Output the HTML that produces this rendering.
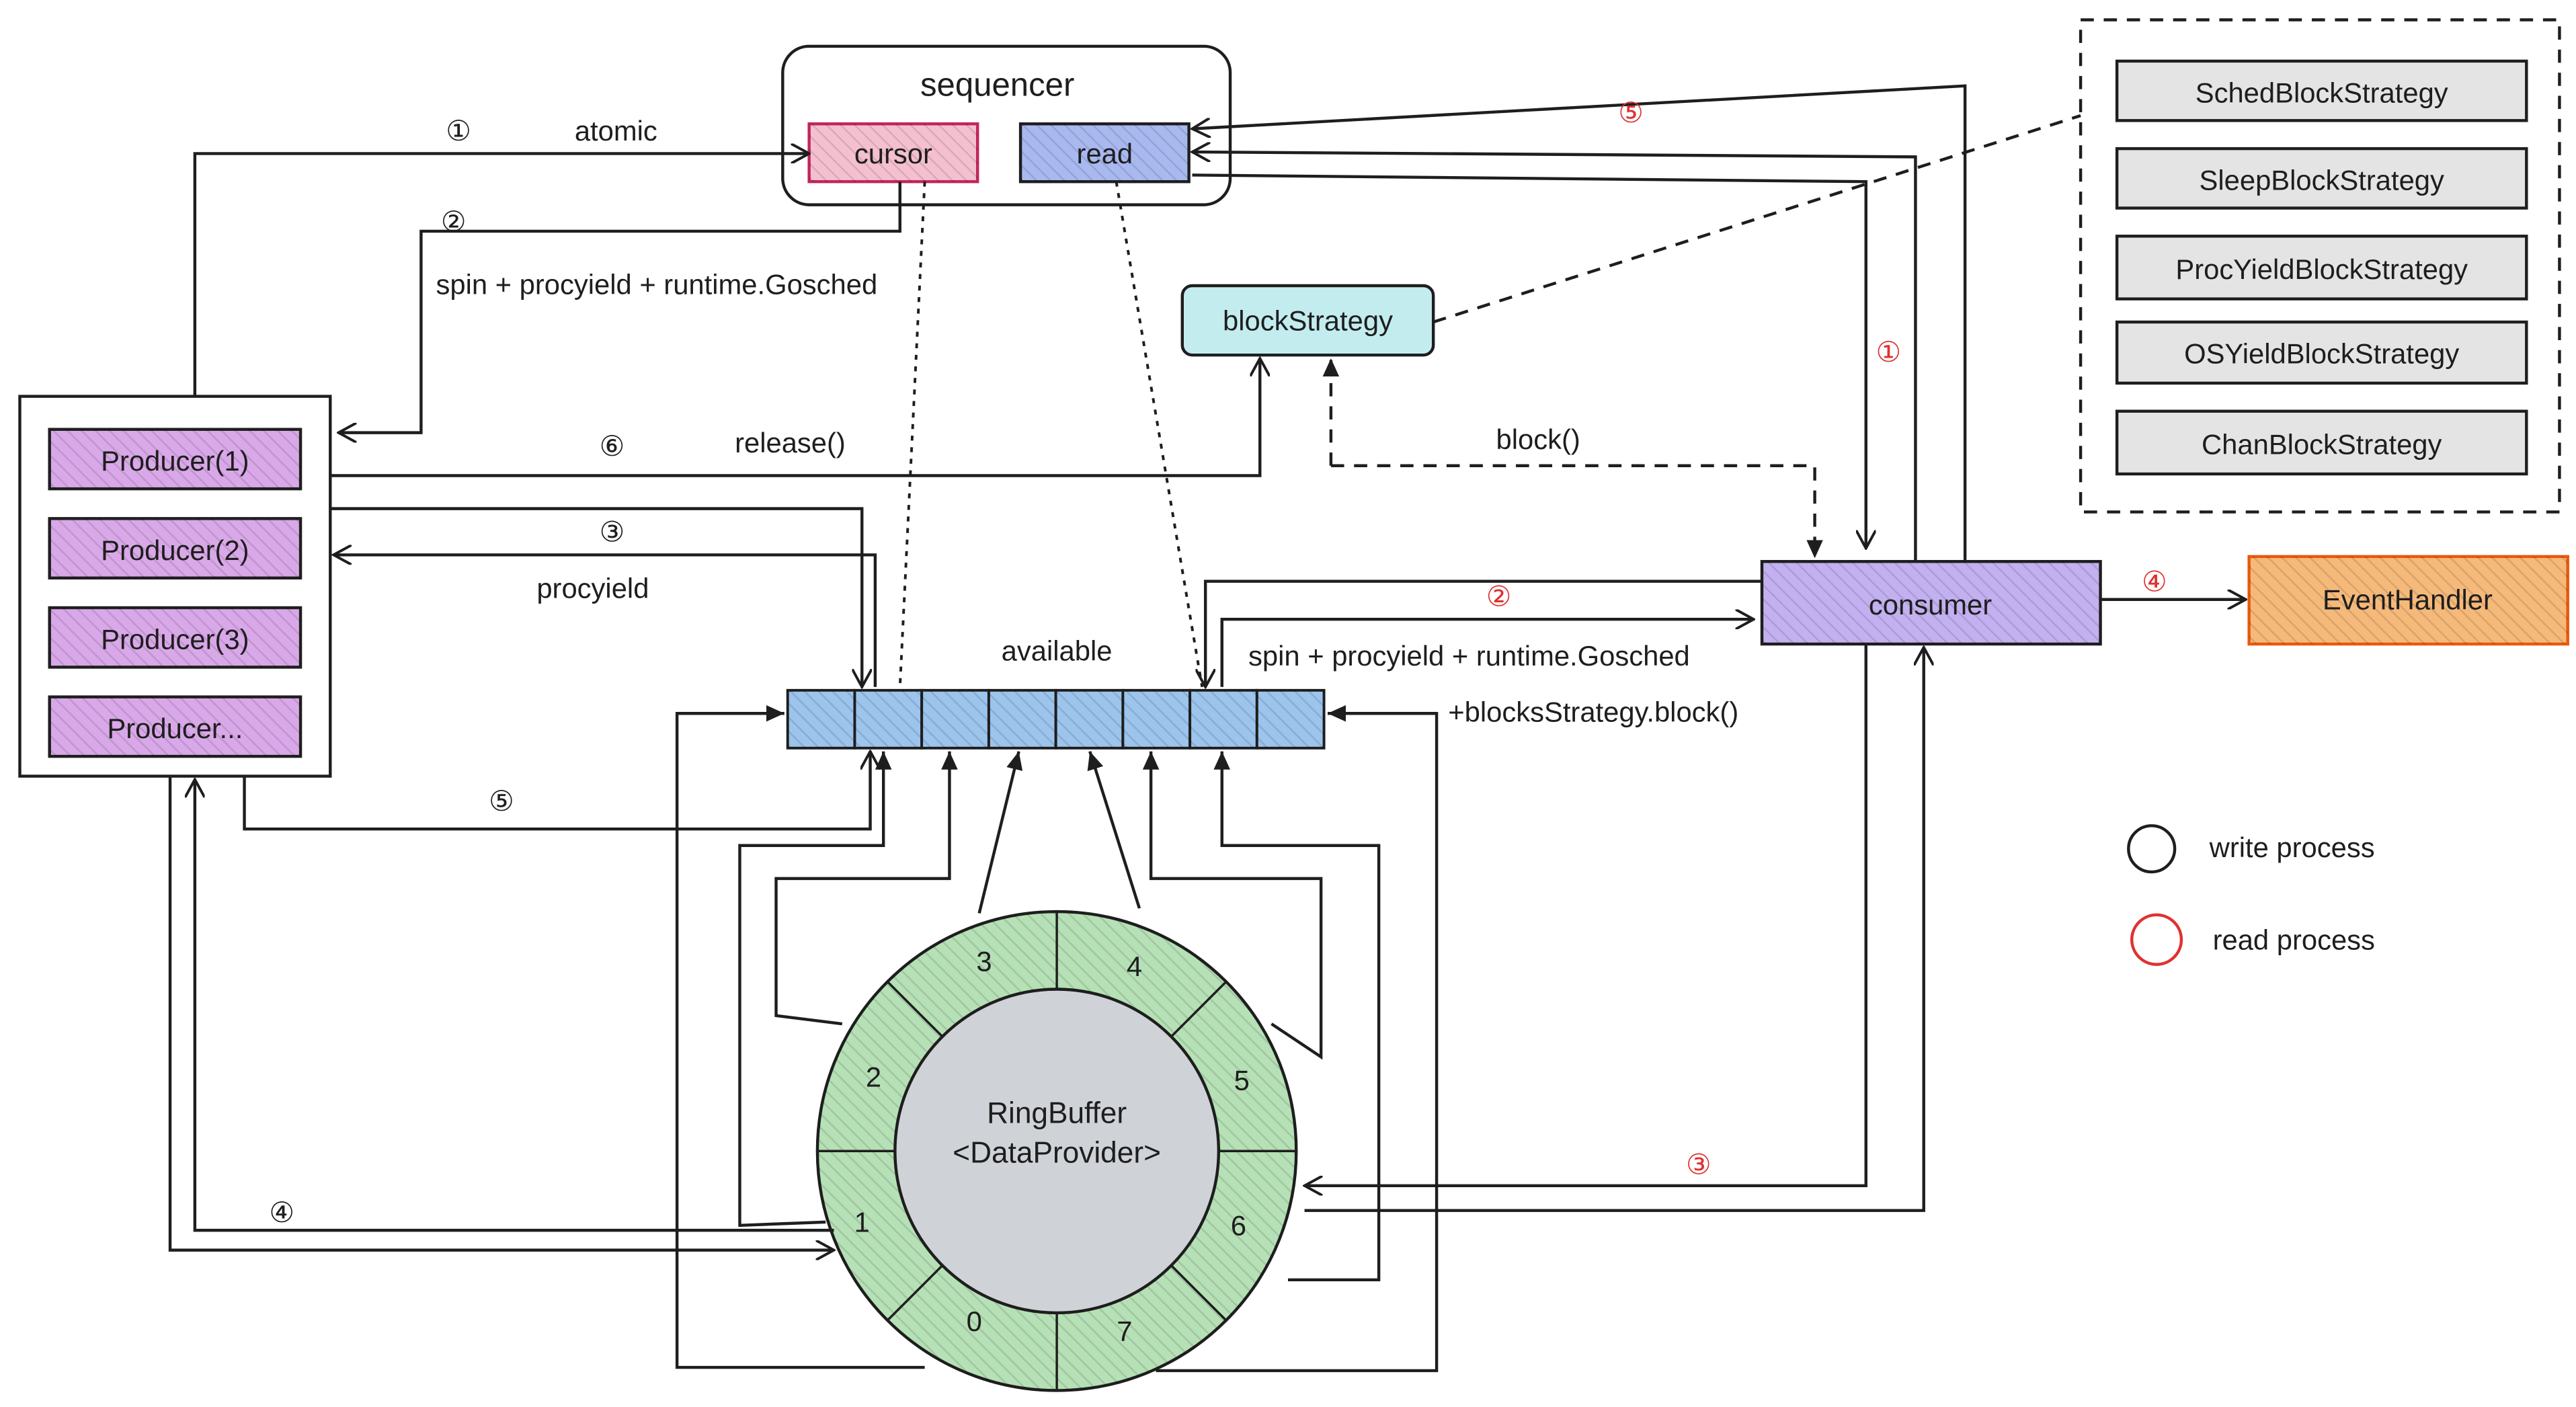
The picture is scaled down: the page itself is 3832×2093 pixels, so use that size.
<!DOCTYPE html>
<html><head><meta charset="utf-8"><style>
html,body{margin:0;padding:0;background:#fff;}
svg{display:block;}
text{font-family:"Liberation Sans",sans-serif;fill:#1e1e1e;}
</style></head><body>
<svg width="3832" height="2093" viewBox="0 0 1560 852" preserveAspectRatio="none" xmlns="http://www.w3.org/2000/svg">
<defs>
<marker id="a" viewBox="0 0 12 12" refX="11" refY="6" markerWidth="12" markerHeight="12" markerUnits="userSpaceOnUse" orient="auto"><path d="M0,0 L11,6 L0,12" fill="none" stroke="#1e1e1e" stroke-width="1.6"/></marker>
<marker id="t" viewBox="0 0 12 12" refX="11" refY="6" markerWidth="12" markerHeight="12" markerUnits="userSpaceOnUse" orient="auto"><path d="M0,1 L11,6 L0,11 Z" fill="#1e1e1e"/></marker>
<pattern id="h" width="6" height="6" patternUnits="userSpaceOnUse" patternTransform="rotate(-45)"><line x1="0" y1="0" x2="0" y2="6" stroke="#000" stroke-opacity="0.12" stroke-width="2"/></pattern>
</defs>
<g fill="none" stroke="#1e1e1e" stroke-width="1.8">
<!-- sequencer -->
<rect x="474" y="28" width="271" height="96" rx="16" fill="#fff"/>
</g>
<text x="604" y="58" font-size="20" text-anchor="middle">sequencer</text>
<rect x="490" y="75" width="102" height="35" fill="#f4c0d0" stroke="#c2255c" stroke-width="1.8"/>
<rect x="490" y="75" width="102" height="35" fill="url(#h)"/>
<text x="541" y="99" font-size="17" text-anchor="middle">cursor</text>
<rect x="618" y="75" width="102" height="35" fill="#a9b9f0" stroke="#1e1e1e" stroke-width="1.8"/>
<rect x="618" y="75" width="102" height="35" fill="url(#h)"/>
<text x="669" y="99" font-size="17" text-anchor="middle">read</text>

<!-- producers -->
<rect x="12" y="240" width="188" height="230" fill="#fff" stroke="#1e1e1e" stroke-width="1.8"/>
<g stroke="#1e1e1e" stroke-width="1.8">
<rect x="30" y="260" width="152" height="36" fill="#d9a8e8"/>
<rect x="30" y="314" width="152" height="36" fill="#d9a8e8"/>
<rect x="30" y="368" width="152" height="36" fill="#d9a8e8"/>
<rect x="30" y="422" width="152" height="36" fill="#d9a8e8"/>
</g>
<g fill="url(#h)"><rect x="30" y="260" width="152" height="36"/><rect x="30" y="314" width="152" height="36"/><rect x="30" y="368" width="152" height="36"/><rect x="30" y="422" width="152" height="36"/></g>
<text x="106" y="285" font-size="17" text-anchor="middle">Producer(1)</text>
<text x="106" y="339" font-size="17" text-anchor="middle">Producer(2)</text>
<text x="106" y="393" font-size="17" text-anchor="middle">Producer(3)</text>
<text x="106" y="447" font-size="17" text-anchor="middle">Producer...</text>

<!-- blockStrategy -->
<rect x="716" y="173" width="152" height="42" rx="6" fill="#c3ecef" stroke="#1e1e1e" stroke-width="1.8"/>
<text x="792" y="200" font-size="17" text-anchor="middle">blockStrategy</text>

<!-- strategies -->
<rect x="1260" y="12" width="290" height="298" fill="none" stroke="#1e1e1e" stroke-width="1.8" stroke-dasharray="8 6"/>
<g stroke="#1e1e1e" stroke-width="1.8" fill="#e4e4e4">
<rect x="1282" y="37" width="248" height="36"/>
<rect x="1282" y="90" width="248" height="36"/>
<rect x="1282" y="143" width="248" height="38"/>
<rect x="1282" y="195" width="248" height="37"/>
<rect x="1282" y="249" width="248" height="38"/>
</g>
<text x="1406" y="62" font-size="17" text-anchor="middle">SchedBlockStrategy</text>
<text x="1406" y="115" font-size="17" text-anchor="middle">SleepBlockStrategy</text>
<text x="1406" y="169" font-size="17" text-anchor="middle">ProcYieldBlockStrategy</text>
<text x="1406" y="220" font-size="17" text-anchor="middle">OSYieldBlockStrategy</text>
<text x="1406" y="275" font-size="17" text-anchor="middle">ChanBlockStrategy</text>

<!-- consumer & eventhandler -->
<rect x="1067" y="340" width="205" height="50" fill="#c3b0f0" stroke="#1e1e1e" stroke-width="1.8"/>
<rect x="1067" y="340" width="205" height="50" fill="url(#h)"/>
<text x="1169" y="372" font-size="17" text-anchor="middle">consumer</text>
<rect x="1362" y="337" width="193" height="53" fill="#f5b97a" stroke="#e8590c" stroke-width="1.8"/>
<rect x="1362" y="337" width="193" height="53" fill="url(#h)"/>
<text x="1458" y="369" font-size="17" text-anchor="middle">EventHandler</text>

<!-- available -->
<text x="640" y="400" font-size="17" text-anchor="middle">available</text>
<g stroke="#1e1e1e" stroke-width="1.6" fill="#9cc4ec">
<rect x="477" y="418" width="40.6" height="35"/><rect x="517.6" y="418" width="40.6" height="35"/><rect x="558.2" y="418" width="40.6" height="35"/><rect x="598.8" y="418" width="40.6" height="35"/><rect x="639.4" y="418" width="40.6" height="35"/><rect x="680" y="418" width="40.6" height="35"/><rect x="720.6" y="418" width="40.6" height="35"/><rect x="761.2" y="418" width="40.6" height="35"/>
</g>
<rect x="477" y="418" width="325" height="35" fill="url(#h)"/>

<!-- ring -->
<circle cx="640" cy="697" r="145" fill="#b6e0b6" stroke="#1e1e1e" stroke-width="1.8"/>
<circle cx="640" cy="697" r="145" fill="url(#h)"/>
<g stroke="#1e1e1e" stroke-width="1.4">
<line x1="640" y1="552" x2="640" y2="599"/><line x1="640" y1="795" x2="640" y2="842"/>
<line x1="495" y1="697" x2="542" y2="697"/><line x1="738" y1="697" x2="785" y2="697"/>
<line x1="537" y1="594" x2="571" y2="628"/><line x1="709" y1="766" x2="743" y2="800"/>
<line x1="743" y1="594" x2="709" y2="628"/><line x1="571" y1="766" x2="537" y2="800"/>
</g>
<circle cx="640" cy="697" r="98" fill="#cfd2d6" stroke="#1e1e1e" stroke-width="1.8"/>
<text x="640" y="680" font-size="18" text-anchor="middle">RingBuffer</text>
<text x="640" y="704" font-size="18" text-anchor="middle">&lt;DataProvider&gt;</text>
<g font-size="17" text-anchor="middle">
<text x="596" y="588">3</text><text x="687" y="591">4</text><text x="529" y="658">2</text><text x="752" y="660">5</text>
<text x="522" y="746">1</text><text x="750" y="748">6</text><text x="590" y="806">0</text><text x="681" y="812">7</text>
</g>

<!-- connectors -->
<g fill="none" stroke="#1e1e1e" stroke-width="1.8">
<polyline points="118,240 118,93 490,93" marker-end="url(#a)"/>
<polyline points="545,110 545,140 255,140 255,262 205,262" marker-end="url(#a)"/>
<polyline points="200,288 763,288 763,217" marker-end="url(#a)"/>
<polyline points="200,308 522,308 522,416" marker-end="url(#a)"/>
<polyline points="530,416 530,336 202,336" marker-end="url(#a)"/>
<polyline points="148,470 148,502 527,502 527,455" marker-end="url(#a)"/>
<polyline points="103,470 103,757 505,757" marker-end="url(#a)"/>
<polyline points="505,745 118,745 118,472" marker-end="url(#a)"/>
<polyline points="1067,352 730,352 730,416" marker-end="url(#a)"/>
<polyline points="740,416 740,375 1062,375" marker-end="url(#a)"/>
<polyline points="1190,340 1190,52 722,78" marker-end="url(#a)"/>
<polyline points="1160,340 1160,95 722,92" marker-end="url(#a)"/>
<polyline points="722,106 1130,110 1130,332" marker-end="url(#a)"/>
<polyline points="1272,363 1360,363" marker-end="url(#a)"/>
<polyline points="1130,390 1130,718 790,718" marker-end="url(#a)"/>
<polyline points="790,733 1165,733 1165,392" marker-end="url(#a)"/>
<polyline points="593,553 617,455" marker-end="url(#t)"/>
<polyline points="690,550 660,455" marker-end="url(#t)"/>
<polyline points="510,620 470,615 470,532 575,532 575,455" marker-end="url(#t)"/>
<polyline points="500,740 448,742 448,512 535,512 535,455" marker-end="url(#t)"/>
<polyline points="560,828 410,828 410,432 475,432" marker-end="url(#t)"/>
<polyline points="770,620 800,640 800,532 697,532 697,455" marker-end="url(#t)"/>
<polyline points="780,775 835,775 835,512 740,512 740,455" marker-end="url(#t)"/>
<polyline points="640,842 640,855" stroke="none"/>
<polyline points="700,830 870,830 870,432 804,432" marker-end="url(#t)"/>
</g>
<g fill="none" stroke="#1e1e1e" stroke-width="1.6" stroke-dasharray="3 4">
<line x1="560" y1="110" x2="545" y2="416"/>
<line x1="676" y1="110" x2="728" y2="416"/>
</g>
<g fill="none" stroke="#1e1e1e" stroke-width="1.8" stroke-dasharray="8 6">
<polyline points="806,282 806,217" marker-end="url(#t)"/>
<polyline points="806,282 1099,282 1099,338" marker-end="url(#t)"/>
<line x1="868" y1="195" x2="1260" y2="70"/>
</g>

<!-- labels -->
<g font-size="17">
<text x="270" y="85">①</text><text x="348" y="85">atomic</text>
<text x="267" y="140">②</text><text x="264" y="178">spin + procyield + runtime.Gosched</text>
<text x="363" y="276">⑥</text><text x="445" y="274">release()</text>
<text x="363" y="328">③</text><text x="325" y="362">procyield</text>
<text x="296" y="491">⑤</text>
<text x="163" y="740">④</text>
<text x="906" y="272">block()</text>
<text x="756" y="403">spin + procyield + runtime.Gosched</text>
<text x="877" y="437">+blocksStrategy.block()</text>
<text x="1338" y="519">write process</text>
<text x="1340" y="575">read process</text>
</g>
<g font-size="17" fill="#e03131">
<text x="980" y="74" style="fill:#e03131">⑤</text>
<text x="1136" y="219" style="fill:#e03131">①</text>
<text x="900" y="367" style="fill:#e03131">②</text>
<text x="1297" y="358" style="fill:#e03131">④</text>
<text x="1021" y="711" style="fill:#e03131">③</text>
</g>
<circle cx="1303" cy="514" r="14" fill="none" stroke="#1e1e1e" stroke-width="1.8"/>
<circle cx="1306" cy="569" r="15" fill="none" stroke="#e03131" stroke-width="1.8"/>
</svg>
</body></html>
